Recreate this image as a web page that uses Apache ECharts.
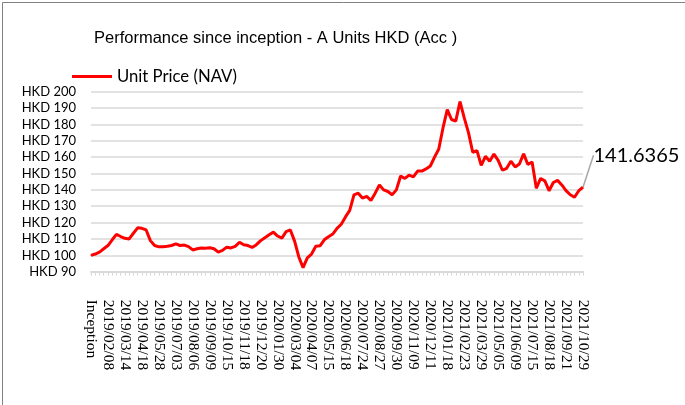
<!DOCTYPE html>
<html>
<head>
<meta charset="utf-8">
<script src="https://cdn.jsdelivr.net/npm/echarts@6/dist/echarts.min.js"></script>
<style>
  html, body { margin: 0; padding: 0; background: #fff; }
  #chart { width: 685px; height: 405px; }
</style>
</head>
<body>
<div id="chart"></div>
<script>
  // axis labels, one every 4 points
  var tickLabels = ['Inception', '2019/02/08', '2019/03/14', '2019/04/18', '2019/05/28', '2019/07/03',
    '2019/08/06', '2019/09/09', '2019/10/15', '2019/11/18', '2019/12/20', '2020/01/30', '2020/03/04',
    '2020/04/07', '2020/05/15', '2020/06/18', '2020/07/24', '2020/08/27', '2020/09/30', '2020/11/09',
    '2020/12/11', '2021/01/18', '2021/02/23', '2021/03/29', '2021/05/05', '2021/06/09', '2021/07/15',
    '2021/08/18', '2021/09/21', '2021/10/29'];
  var pointsPerLabel = 4;

  // unit price (NAV)
  var navValues = [
    100, 100.8, 102, 104, 106, 109.5, 112.8, 111.5, 110.4, 110,
    113.5, 116.8, 116.5, 115.5, 109, 106, 105.2, 105.3, 105.5, 106,
    107, 106, 106.3, 105.3, 103.3, 104, 104.5, 104.3, 104.6, 104,
    102, 103, 105, 104.5, 105.5, 108, 106.5, 106, 104.8, 106.5,
    109, 110.8, 112.6, 114.2, 111.8, 110.5, 114.5, 115.5, 108.7, 99,
    92.5, 98.5, 100.8, 105.5, 105.8, 109.5, 111.4, 113, 116.5, 119,
    123.5, 127.5, 137, 138, 135, 136, 133.5, 138, 143, 140,
    139, 137, 140, 148.5, 147, 149, 148, 151.5, 151.5, 152.8,
    154.6, 160, 165, 178, 189, 183, 182, 194, 184, 175,
    163, 164, 155, 160.5, 157.5, 161.9, 158, 152, 153.2, 157.5,
    154, 155.8, 162, 155.5, 157, 141, 147, 145.5, 139.5, 144.5,
    145.8, 143, 139.5, 137, 135.5, 139.5, 141.6365
  ];

  var categories = navValues.map(function (v, i) {
    return i % pointsPerLabel === 0 ? tickLabels[i / pointsPerLabel] : '';
  });

  var lastIndex = navValues.length - 1;
  var seriesData = navValues.map(function (v, i) {
    if (i === lastIndex) {
      return {
        value: v,
        label: {
          show: true,
          position: 'right',
          formatter: '{c}',
          fontFamily: 'Lato',
          fontSize: 20,
          color: '#000'
        },
        labelLine: { show: true, lineStyle: { color: '#a6a6a6', width: 1.5 } }
      };
    }
    return v;
  });

  var myChart = echarts.init(document.getElementById('chart'));
  var option = {
    backgroundColor: '#fff',
    animation: false,
    title: {
      text: 'Performance since inception - A Units HKD (Acc )',
      left: 89,
      top: 25,
      textStyle: { fontFamily: 'Liberation Sans', fontSize: 16.5, fontWeight: 'normal', color: '#000' }
    },
    legend: {
      left: 67,
      top: 63,
      icon: 'rect',
      itemWidth: 40,
      itemHeight: 3,
      itemGap: 4,
      textStyle: { fontFamily: 'Lato', fontSize: 16.7, color: '#000' },
      data: ['Unit Price (NAV)']
    },
    graphic: [
      { type: 'line', shape: { x1: 2.5, y1: 2.5, x2: 685, y2: 2.5 }, style: { stroke: '#808080', lineWidth: 1 } },
      { type: 'line', shape: { x1: 2.5, y1: 2.5, x2: 2.5, y2: 405 }, style: { stroke: '#808080', lineWidth: 1 } }
    ],
    grid: {
      left: 91,
      right: 102,
      top: 91.7,
      bottom: 133.3
    },
    xAxis: {
      type: 'category',
      data: categories,
      boundaryGap: false,
      axisLine: { show: true, lineStyle: { color: '#d9d9d9', width: 2 } },
      axisTick: { show: true, interval: 0, length: 4, lineStyle: { color: '#d9d9d9', width: 1 } },
      axisLabel: {
        interval: pointsPerLabel - 1,
        rotate: -90,
        margin: 28,
        fontFamily: 'Liberation Serif',
        fontSize: 15.5,
        color: '#000'
      },
      splitLine: { show: false }
    },
    yAxis: {
      type: 'value',
      min: 90,
      max: 200,
      interval: 10,
      axisLine: { show: false },
      axisTick: { show: false },
      axisLabel: {
        formatter: 'HKD {value}',
        margin: 15,
        fontFamily: 'Lato',
        fontSize: 13,
        color: '#000'
      },
      splitLine: { lineStyle: { color: '#d9d9d9', width: 1.5 } }
    },
    series: [
      {
        name: 'Unit Price (NAV)',
        type: 'line',
        data: seriesData,
        showSymbol: true,
        showAllSymbol: true,
        symbol: 'circle',
        symbolSize: 1,
        lineStyle: { color: '#ff0000', width: 3 },
        itemStyle: { color: '#ff0000' },
        labelLayout: function (params) {
          if (params.dataIndex === lastIndex) {
            return { dx: 5, dy: -32 };
          }
          return {};
        }
      }
    ]
  };
  myChart.setOption(option);
</script>
</body>
</html>
